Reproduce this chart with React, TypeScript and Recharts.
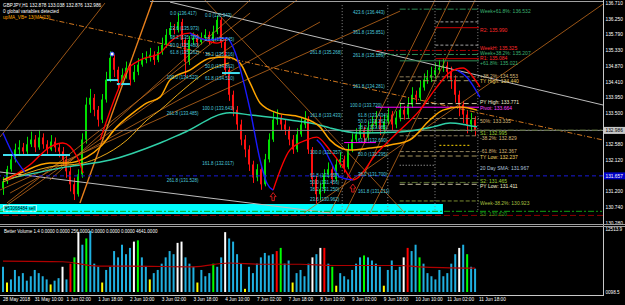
import React from 'react';
import {
  ComposedChart, Bar, Line, XAxis, YAxis, ReferenceLine, ReferenceDot, ReferenceArea, Cell,
} from 'recharts';

// ---------------- DATA ----------------
const opens = [
  131.30, 131.50, 131.85, 132.14, 132.43, 132.49, 132.37, 132.58, 132.72, 132.49,
  132.78, 132.58, 132.43, 132.66, 132.49, 132.37, 132.14, 131.79, 131.41, 131.12,
  131.70, 132.72, 133.74, 133.94, 133.59, 133.30, 133.89, 134.47, 135.11, 134.76,
  134.41, 134.61, 134.82, 134.47, 134.70, 134.91, 135.05, 135.11, 135.20, 135.05,
  135.28, 135.49, 135.78, 135.98, 135.92, 136.16, 135.63, 134.99, 135.63, 135.69,
  135.57, 135.69, 135.78, 135.63, 135.87, 136.22, 135.57, 134.76, 134.03, 133.59,
  133.16, 132.72, 132.43, 131.99, 131.61, 131.85, 131.41, 132.14, 132.72, 133.30,
  133.36, 133.16, 133.01, 132.72, 132.43, 132.87, 133.16, 133.30, 132.43, 131.56,
  131.12, 131.27, 131.70, 131.85, 131.56, 131.99, 132.14, 131.91, 132.43, 132.72,
  132.87, 133.01, 132.78, 133.07, 133.16, 133.30, 133.01, 133.25, 133.45, 133.16,
  133.36, 133.59, 133.45, 133.74, 134.03, 133.94, 134.24, 134.47, 134.53, 134.61,
  134.76, 134.82, 134.88, 134.70, 134.47, 134.03, 133.74, 133.45, 133.16, 133.30,
];
const highs = [
  131.62, 131.95, 132.30, 132.60, 132.70, 132.62, 132.80, 132.95, 132.85, 133.00,
  132.90, 132.70, 132.85, 132.78, 132.60, 132.50, 132.25, 131.95, 131.60, 131.85,
  132.90, 133.95, 134.20, 134.05, 133.70, 134.05, 134.70, 135.30, 135.20, 134.85,
  134.80, 135.00, 134.95, 134.90, 135.10, 135.25, 135.30, 135.40, 135.30, 135.45,
  135.70, 135.95, 136.15, 136.10, 136.42, 136.25, 135.70, 135.75, 135.85, 135.80,
  135.85, 135.95, 135.88, 136.05, 136.34, 136.30, 135.65, 134.85, 134.15, 133.70,
  133.30, 132.85, 132.55, 132.10, 132.00, 131.95, 132.30, 132.90, 133.55, 133.60,
  133.45, 133.30, 133.10, 132.85, 133.05, 133.35, 133.55, 133.40, 132.50, 131.65,
  131.45, 131.85, 132.05, 131.95, 132.15, 132.35, 132.25, 132.60, 132.90, 133.05,
  133.20, 133.10, 133.25, 133.40, 133.55, 133.40, 133.45, 133.65, 133.55, 133.55,
  133.80, 133.70, 133.95, 134.25, 134.15, 134.45, 134.65, 134.75, 134.85, 134.95,
  135.05, 135.10, 135.00, 134.85, 134.60, 134.15, 133.85, 133.55, 133.50, 133.40,
];
const lows = [
  131.10, 131.42, 131.78, 132.05, 132.30, 132.25, 132.30, 132.50, 132.35, 132.42,
  132.45, 132.30, 132.38, 132.35, 132.20, 131.95, 131.60, 131.20, 130.95, 131.05,
  131.60, 132.60, 133.50, 133.40, 133.10, 133.20, 133.80, 134.40, 134.55, 134.20,
  134.30, 134.50, 134.30, 134.40, 134.60, 134.85, 134.95, 135.00, 134.90, 134.98,
  135.20, 135.40, 135.70, 135.80, 135.85, 135.45, 134.55, 134.90, 135.50, 135.45,
  135.50, 135.60, 135.50, 135.55, 135.80, 135.40, 134.60, 133.85, 133.40, 133.00,
  132.55, 132.20, 131.80, 131.45, 131.50, 131.25, 131.35, 132.05, 132.65, 133.15,
  133.00, 132.85, 132.55, 132.30, 132.35, 132.80, 133.05, 132.30, 131.35, 130.85,
  130.95, 131.15, 131.60, 131.40, 131.50, 131.90, 131.75, 131.85, 132.35, 132.65,
  132.75, 132.60, 132.70, 132.95, 133.05, 132.85, 132.90, 133.15, 133.00, 133.05,
  133.25, 133.30, 133.35, 133.65, 133.80, 133.85, 134.15, 134.35, 134.40, 134.50,
  134.65, 134.70, 134.50, 134.20, 133.80, 133.40, 133.20, 132.90, 132.95, 132.82,
];
const closes = [
  131.50, 131.85, 132.14, 132.43, 132.49, 132.37, 132.58, 132.72, 132.49, 132.78,
  132.58, 132.43, 132.66, 132.49, 132.37, 132.14, 131.79, 131.41, 131.12, 131.70,
  132.72, 133.74, 133.94, 133.59, 133.30, 133.89, 134.47, 135.11, 134.76, 134.41,
  134.61, 134.82, 134.47, 134.70, 134.91, 135.05, 135.11, 135.20, 135.05, 135.28,
  135.49, 135.78, 135.98, 135.92, 136.16, 135.63, 134.99, 135.63, 135.69, 135.57,
  135.69, 135.78, 135.63, 135.87, 136.22, 135.57, 134.76, 134.03, 133.59, 133.16,
  132.72, 132.43, 131.99, 131.61, 131.85, 131.41, 132.14, 132.72, 133.30, 133.36,
  133.16, 133.01, 132.72, 132.43, 132.87, 133.16, 133.30, 132.43, 131.56, 131.12,
  131.27, 131.70, 131.85, 131.56, 131.99, 132.14, 131.91, 132.43, 132.72, 132.87,
  133.01, 132.78, 133.07, 133.16, 133.30, 133.01, 133.25, 133.45, 133.16, 133.36,
  133.59, 133.45, 133.74, 134.03, 133.94, 134.24, 134.47, 134.53, 134.61, 134.76,
  134.82, 134.88, 134.70, 134.47, 134.03, 133.74, 133.45, 133.16, 133.30, 132.98,
];

const volumes = [
  5010, 1880, 2500, 4380, 3130, 3750, 2250, 3130, 4380, 3750,
  3130, 2500, 1500, 2250, 2750, 5010, 2500, 5630, 6880, 11890,
  9390, 10640, 12140, 5630, 5010, 1880, 4380, 5010, 8130, 6880,
  9390, 7510, 8760, 10010, 10260, 6880, 5010, 2500, 3750, 4380,
  5630, 6880, 8130, 7510, 9760, 10010, 6880, 5630, 5010, 1880,
  4380, 3130, 3750, 5630, 5010, 6880, 11890, 10640, 10010, 7510,
  5630, 630, 5010, 3750, 5630, 6880, 7760, 7260, 7510, 8130,
  8760, 5630, 6260, 1880, 3750, 4380, 3130, 5630, 6880, 7510,
  8760, 8760, 5630, 5010, 1250, 3750, 3130, 2500, 4380, 5630,
  6880, 7260, 6880, 6260, 5630, 5010, 1250, 4380, 6260, 4380,
  5010, 6880, 8760, 8130, 9390, 6880, 5630, 3750, 3130, 2500,
  4380, 3130, 3750, 5630, 7510, 8760, 9390, 7510, 5010, 4641,
];
// b = normal, w = climax, r = climax high, g = churn, y = low volume
const volumeKinds =
  'bybbbbbbbb' + 'bbybbwbrgw' + 'bgbbbybbbb' + 'bbbwgbbybb' + 'bbbbwwbbby' +
  'bbbgbbwbbb' + 'bybbbbbbbr' + 'gbbybbbbwb' + 'wrbgybbbbb' + 'bgbbbbybbb' +
  'bwrbbgbbbb' + 'bbbbbwbgbb';

const volumeMA = [
  [0, 6130], [15, 6010], [24, 5130], [32, 5130], [48, 5010], [57, 5760],
  [65, 5510], [75, 5510], [83, 5260], [100, 5260], [105, 5010], [119, 4760],
];

const tealMA = [
  [0, 131.54], [16.1, 131.92], [27, 132.12], [39.6, 132.62], [45.4, 132.91], [57.2, 133.50],
  [62.3, 133.44], [72.3, 133.29], [79.9, 133.14], [82.4, 133.06], [90, 132.91], [100, 132.94],
  [108.4, 133.09], [112.7, 133.20], [117, 133.14], [119.5, 133.09],
];
const orangeMA = [
  [0, 131.54], [4.3, 131.74], [11.8, 132.03], [16.1, 132.03], [21.2, 132.21], [24.5, 132.50],
  [28.7, 133.09], [32.8, 133.50], [36.3, 133.79], [39.6, 133.96], [42.1, 134.46], [47.1, 134.75],
  [52.2, 135.10], [56.5, 135.13], [59.7, 134.96], [62.3, 134.37], [64.8, 133.79], [69.1, 133.50],
  [74.9, 133.38], [79.9, 133.09], [82.4, 132.71], [87.5, 132.41], [92.5, 132.47], [97.6, 132.56],
  [102.6, 132.71], [107.6, 133.29], [110.9, 133.58], [115.2, 133.67], [119.5, 133.58],
];
const goldMA = [
  [0, 131.48], [11.8, 131.92], [20.2, 132.03], [24.5, 132.21], [31.3, 132.71], [36.3, 133.29],
  [39.6, 133.58], [45.4, 134.17], [52, 134.75], [57, 134.96],
];
const redSegments = [
  [[1.0, 131.54], [6.8, 131.98], [11.8, 132.50], [15.1, 132.62], [18.7, 132.21], [20.2, 131.74]],
  [[24.5, 132.71], [28.7, 134.08], [31.3, 134.75], [34.5, 135.04], [39.6, 135.25], [42.1, 135.57],
   [47.1, 135.83], [49.7, 135.69], [53.9, 135.54], [56.5, 135.69]],
  [[68.1, 131.24], [72.3, 132.41], [76.6, 132.71], [79.1, 132.79], [82.4, 132.41], [85.7, 131.92],
   [88.2, 131.54], [94.3, 132.33], [99.3, 132.91], [105.1, 133.58], [109.4, 134.26], [112.7, 134.69],
   [116, 134.81], [118.5, 134.55], [120.2, 134.26]],
];
const blueSegments = [
  [[0, 132.91], [3.0, 132.18], [5.5, 131.77]],
  [[47.1, 135.83], [51.4, 135.63], [56.5, 135.69], [58.0, 135.42], [62.3, 133.58], [64.8, 132.12],
   [66.5, 131.45], [68.1, 131.24]],
  [[79.1, 132.71], [80.7, 132.50], [82.4, 132.12], [84.9, 131.62], [88.2, 131.54]],
  [[114.4, 134.75], [116.9, 134.55], [120.2, 133.96]],
];

const priceTicks = [136.71, 136.25, 135.79, 135.33, 134.87, 134.41, 133.95, 133.5, 132.986,
  132.58, 132.12, 131.657, 131.2, 130.74, 130.28];
const currentPrice = 132.986;
const blueLevel = 131.657;

const dateTickBars = [0, 8, 16, 24, 32, 40, 48, 56, 64, 72, 80, 88, 96, 104, 112, 120];
const dateLabels = ['28 May 2018', '31 May 10:00', '1 Jun 02:00', '1 Jun 18:00', '2 Jun 10:00',
  '3 Jun 02:00', '3 Jun 18:00', '4 Jun 10:00', '7 Jun 02:00', '7 Jun 18:00', '8 Jun 10:00',
  '9 Jun 02:00', '9 Jun 18:00', '10 Jun 10:00', '11 Jun 02:00', '11 Jun 18:00'];

const volTicks = [0, 12513.9];
const volTickLabels = ['0098.5', '12513.9'];

// pivot / fib levels: [price, label, kind, fromBar, toBar]
const levels: [number, string, string, number, number][] = [
  [136.532, 'Week+61.8%: 136.532', 'weekfib', 100, 120],
  [135.990, 'R2: 135.990', 'r', 109, 120],
  [135.325, 'WeekH: 135.325', 'weekhl', 94, 120],
  [135.207, 'Week+38.2%: 135.207', 'weekfib', 94, 120],
  [135.084, 'R1: 135.084', 'r', 109, 120],
  [135.021, '+61.8%: 135.021', 'dayfib', 100, 120],
  [134.553, '+38.2%: 134.553', 'fib', 100, 120],
  [134.440, 'TY High: 134.440', 'ty', 100, 120],
  [133.771, 'PY High: 133.771', 'py', 100, 120],
  [133.664, 'Pivot: 133.664', 'pivot', 94, 120],
  [133.335, '50%: 133.335', 'fib', 100, 120],
  [132.995, 'S1: 132.995', 's', 100, 151],
  [132.829, '-38.2%: 132.829', 'fib', 100, 120],
  [132.367, '-61.8%: 132.367', 'fib', 100, 120],
  [132.237, 'TY Low: 132.237', 'ty', 100, 120],
  [131.967, '20 Day SMA: 131.967', 'sma', 100, 109],
  [131.465, 'S2: 131.465', 's', 100, 120],
  [131.411, 'PY Low: 131.411', 'py', 100, 120],
  [130.923, 'Week-38.2%: 130.923', 'weekfib2', 100, 120],
  [130.620, 'S3: 130.620', 's3', -0.75, 151],
];

// fibonacci text labels: [bar, price, text]
const fibLabels: [number, number, string][] = [
  [42.1, 136.417, '0.0 (136.417)'], [42.1, 135.973, '23.6 (135.973)'], [42.1, 135.700, '38.2 (135.700)'],
  [42.1, 135.480, '50.0 (135.480)'], [42.1, 135.262, '61.8 (135.262)'], [41.3, 134.523, '100.0 (134.523)'],
  [41.3, 133.485, '261.8 (133.485)'], [41.3, 131.528, '261.8 (131.528)'],
  [50.9, 136.343, '0.0 (136.343)'], [50.9, 135.645, '23.6 (135.645)'], [50.9, 135.216, '38.2 (135.216)'],
  [50.9, 134.862, '50.0 (134.862)'], [50.9, 134.510, '61.8 (134.510)'], [50.2, 133.641, '100.0 (133.641)'],
  [50.2, 132.017, '161.8 (132.017)'],
  [77.4, 135.268, '261.8 (135.268)'], [77.4, 133.433, '161.8 (133.433)'], [77.4, 132.357, '100.0 (132.357)'],
  [77.4, 131.657, '61.8 (131.657)'], [77.4, 131.456, '50.0 (131.456)'], [77.4, 131.250, '38.2 (131.250)'],
  [77.4, 130.962, '23.6 (130.962)'],
  [88.2, 136.443, '423.6 (136.443)'], [88.2, 135.851, '361.8 (135.851)'], [88.2, 135.189, '261.8 (135.189)'],
  [88.2, 134.281, '161.8 (134.281)'], [87.5, 133.720, '100.0 (133.720)'],
  [89.5, 133.434, '61.8 (133.434)'], [89.5, 133.262, '50.0 (133.262)'], [89.5, 133.085, '38.2 (133.085)'],
  [89.5, 132.690, '61.8 (132.690)'], [89.5, 132.295, '50.0 (132.295)'], [89.5, 131.700, '38.2 (131.700)'],
  [89.5, 131.211, '161.8 (131.211)'],
];

// trend / fan lines: [bar1, price1, bar2, price2, kind]
const trendLines: [number, number, number, number, string][] = [
  [42.1, 136.739, 151.25, 133.729, 'gray'],
  [-0.756, 131.770, 82.4, 130.572, 'gray'],
  [9.3, 136.301, 151.25, 132.706, 'orangeDash'],
  [-0.756, 132.793, 25.7, 136.710, 'orange'],
  [19.4, 130.864, 37.8, 136.798, 'orangeBright'],
  [1.0, 130.864, 62.3, 136.418, 'orange'],
  [1.8, 131.156, 79.9, 136.155, 'orange'],
  [-0.756, 131.244, 100.1, 136.476, 'orange'],
  [50.9, 136.798, 101.3, 130.572, 'orange'],
  [75.9, 130.572, 151.25, 136.681, 'orange'],
  [82.4, 130.572, 108.9, 136.798, 'orange'],
  [86.2, 130.572, 112.7, 136.798, 'orange'],
  [92.5, 130.572, 119.0, 136.798, 'orange'],
  [11.8, 131.536, 62.3, 136.798, 'orange'],
  [-0.756, 130.659, 74.1, 136.798, 'orange'],
];

// short thick cyan marks: [bar1, bar2, price]
const cyanMarks: [number, number, number][] = [
  [0, 16.9, 132.267], [26.2, 29, 134.459], [28.7, 32, 134.342], [55.2, 59.7, 134.664],
];
const verticalBars = [85.5, 97, 108.9, 119.7];
const arrowsUp: [number, number][] = [[68.1, 131.05], [88.2, 131.30]];

// ---------------- STYLE ----------------
const FONT = '"Liberation Sans", Arial, sans-serif';
const X_DOMAIN: [number, number] = [-0.756, 151.25];
const P_DOMAIN: [number, number] = [130.22, 136.8];

const levelStyle: Record<string, { stroke: string; dash?: string; text: string }> = {
  weekfib: { stroke: '#2e8b57', dash: '6 2 2 2', text: '#3cb371' },
  weekfib2: { stroke: '#7a8a30', dash: '4 2', text: '#a8c040' },
  r: { stroke: '#cc0000', text: '#ff2a2a' },
  weekhl: { stroke: '#b00000', dash: '6 2 2 2', text: '#ff2a2a' },
  dayfib: { stroke: '#2e8b57', text: '#3cb371' },
  fib: { stroke: '#8b7d5a', dash: '4 2', text: '#d8b878' },
  ty: { stroke: '#a89860', dash: '5 3', text: '#f0d060' },
  py: { stroke: '#c8c0a0', dash: '5 3', text: '#f5f0d0' },
  pivot: { stroke: '#ff00ff', text: '#ff40ff' },
  s: { stroke: '#556b2f', dash: '6 2 2 2', text: '#9acd32' },
  s3: { stroke: '#10a010', dash: '6 2 2 2', text: '#20a020' },
  sma: { stroke: '#c0c0c0', dash: '1 2', text: '#b0c4de' },
};
// vertical text offset (px from the level line to the text baseline), by level index
const labelDy: Record<number, number> = {
  2: -0.4, 3: 0.5, 4: 1.3, 5: 4.2, 6: 1.2, 7: 2.3, 8: 0.4, 9: 2.3,
  11: 5, 12: 4.2, 13: 1.4, 14: 2.5, 16: 0.6, 17: 4.2,
};
const trendStyle: Record<string, { stroke: string; dash?: string; w: number }> = {
  gray: { stroke: '#bdbdbd', w: 1 },
  orange: { stroke: '#c06a1c', w: 0.8 },
  orangeBright: { stroke: '#e8801c', w: 1.4 },
  orangeDash: { stroke: '#d2781e', dash: '5 2 1 2', w: 1 },
};
const volColor: Record<string, string> = {
  b: '#1fb0e0', w: '#ffffff', r: '#ff0000', g: '#00ff00', y: '#ffff00',
};

const pts = (arr: number[][]) => arr.map(([x, p]) => ({ x, p }));

const Candle = (props: any) => {
  const { x, y, width, height, payload } = props;
  if (!payload || height == null || isNaN(y) || payload.o == null) return null;
  const top = height < 0 ? y + height : y;
  const H = Math.abs(height);
  const { o, h, l, c } = payload;
  const k = H / (h - l || 1);
  const yO = top + (h - o) * k;
  const yC = top + (h - c) * k;
  const color = c >= o ? '#00e000' : '#ff1010';
  const cx = Math.round(x + width / 2) + 0.5;
  const bTop = Math.min(yO, yC);
  const bH = Math.max(1, Math.abs(yO - yC));
  return (
    <g>
      <line x1={cx} x2={cx} y1={top} y2={top + H} stroke={color} strokeWidth={1} />
      <rect x={Math.round(x)} y={bTop} width={width} height={bH} fill={color} />
    </g>
  );
};

const PriceTick = (props: any) => {
  const { x, y, payload } = props;
  const v = payload.value;
  const cur = Math.abs(v - currentPrice) < 1e-6;
  const blue = Math.abs(v - blueLevel) < 1e-6;
  return (
    <g>
      {cur && <rect x={x} y={y - 3.5} width={22} height={7} fill="#c8c8c8" />}
      {blue && <rect x={x} y={y - 3.5} width={22} height={7} fill="#0000c8" />}
      <text x={x + 2.5} y={y + 1.8} fontSize={4.8} fontFamily={FONT} fill={cur ? '#000' : '#fff'}>
        {v.toFixed(3)}
      </text>
    </g>
  );
};

const VolTick = (props: any) => {
  const { x, y, payload } = props;
  const label = volTickLabels[volTicks.indexOf(payload.value)];
  return (
    <text x={x + 2.5} y={y + 1.8} fontSize={4.6} fontFamily={FONT} fill="#fff">{label}</text>
  );
};

const DateTick = (props: any) => {
  const { x, y, payload } = props;
  const label = dateLabels[dateTickBars.indexOf(payload.value)];
  return (
    <text x={x} y={y + 8.5} fontSize={4.7} fontFamily={FONT} fill="#fff">{label}</text>
  );
};

const mainAxes = (withTicks: boolean) => [
  <XAxis key="x" type="number" dataKey="x" domain={X_DOMAIN} hide allowDataOverflow />,
  <YAxis
    key="y" orientation="right" domain={P_DOMAIN} width={22} ticks={priceTicks} interval={0}
    tick={withTicks ? <PriceTick /> : false} axisLine={false} tickLine={false} tickSize={0} tickMargin={0} allowDataOverflow
  />,
];

export default function App() {
  const candles = closes.map((c, i) => ({
    x: i, o: opens[i], h: highs[i], l: lows[i], c, range: [lows[i], highs[i]],
  }));
  const volData = volumes.map((v, i) => ({ x: i, v }));
  const abs = (top: number): React.CSSProperties => ({ position: 'absolute', left: 0, top });

  return (
    <div style={{ position: 'fixed', left: 0, top: 0, width: 625, height: 305, background: '#000', overflow: 'hidden' }}>
      {/* layer 1: reference lines, bands, candles */}
      <div style={abs(0)}>
        <ComposedChart width={625} height={225} data={candles} margin={{ top: 0, right: 0, bottom: 0, left: 0 }}>
          {mainAxes(true)}
          <ReferenceArea x1={-0.756} x2={110.9} y1={130.54} y2={130.835} fill="#00ffff" fillOpacity={1} stroke="none" ifOverflow="hidden" />
          {trendLines.map(([x1, p1, x2, p2, kind], i) => (
            <ReferenceLine
              key={'t' + i}
              segment={[{ x: x1, y: p1 }, { x: x2, y: p2 }]}
              stroke={trendStyle[kind].stroke}
              strokeWidth={trendStyle[kind].w}
              strokeDasharray={trendStyle[kind].dash}
              ifOverflow="hidden"
            />
          ))}
          {verticalBars.map((b, i) => (
            <ReferenceLine key={'v' + i} segment={[{ x: b, y: 136.65 }, { x: b, y: 130.6 }]} stroke="#8a8a8a" strokeDasharray="1 2" ifOverflow="hidden" />
          ))}
          <ReferenceLine y={currentPrice} stroke="#8c8c8c" strokeWidth={1} ifOverflow="hidden" />
          <ReferenceLine y={blueLevel} stroke="#1a1ad8" strokeDasharray="4 3" ifOverflow="hidden" />
          <ReferenceLine y={130.5} stroke="#8b0000" strokeDasharray="6 3" ifOverflow="hidden" />
          <ReferenceLine segment={[{ x: 109, y: 136.16 }, { x: 120, y: 136.16 }]} stroke="#a0a0a0" strokeDasharray="3 2" ifOverflow="hidden" />
          <ReferenceLine segment={[{ x: 109, y: 135.48 }, { x: 120, y: 135.48 }]} stroke="#a0a0a0" strokeDasharray="3 2" ifOverflow="hidden" />
          <ReferenceLine segment={[{ x: 86, y: 132.63 }, { x: 94, y: 132.63 }]} stroke="#ff00ff" ifOverflow="hidden" />
          <ReferenceLine segment={[{ x: 110, y: 132.55 }, { x: 118, y: 132.55 }]} stroke="#ffd700" strokeDasharray="2 2" ifOverflow="hidden" />
          {levels.map(([p, , kind, a, b], i) => (
            <ReferenceLine
              key={'l' + i}
              segment={[{ x: a, y: p }, { x: b, y: p }]}
              stroke={levelStyle[kind].stroke}
              strokeDasharray={levelStyle[kind].dash}
              ifOverflow="hidden"
            />
          ))}
          {cyanMarks.map(([a, b, p], i) => (
            <ReferenceLine key={'c' + i} segment={[{ x: a, y: p }, { x: b, y: p }]} stroke="#40e0f0" strokeWidth={2} ifOverflow="hidden" />
          ))}
          <Bar dataKey="range" barSize={2} shape={<Candle />} isAnimationActive={false} />
        </ComposedChart>
      </div>

      {/* layer 2: moving-average style lines */}
      <div style={abs(0)}>
        <ComposedChart width={625} height={225} margin={{ top: 0, right: 0, bottom: 0, left: 0 }}>
          {mainAxes(false)}
          <Line data={pts(tealMA)} dataKey="p" type="monotone" stroke="#30d0a8" strokeWidth={1.5} dot={false} activeDot={false} isAnimationActive={false} />
          <Line data={pts(goldMA)} dataKey="p" type="monotone" stroke="#e8a818" strokeWidth={1} dot={false} activeDot={false} isAnimationActive={false} />
          <Line data={pts(orangeMA)} dataKey="p" type="monotone" stroke="#ffa500" strokeWidth={1.5} dot={false} activeDot={false} isAnimationActive={false} />
          {redSegments.map((seg, i) => (
            <Line key={'r' + i} data={pts(seg)} dataKey="p" type="monotone" stroke="#ff0000" strokeWidth={1.4} dot={false} activeDot={false} isAnimationActive={false} />
          ))}
          {blueSegments.map((seg, i) => (
            <Line key={'b' + i} data={pts(seg)} dataKey="p" type="monotone" stroke="#1a1aff" strokeWidth={1.4} dot={false} activeDot={false} isAnimationActive={false} />
          ))}
        </ComposedChart>
      </div>

      {/* layer 3: text annotations and markers */}
      <div style={abs(0)}>
        <ComposedChart width={625} height={225} data={candles} margin={{ top: 0, right: 0, bottom: 0, left: 0 }}>
          {mainAxes(false)}
          {arrowsUp.map(([b, p], i) => (
            <ReferenceDot
              key={'a' + i} x={b} y={p} ifOverflow="hidden"
              shape={(s: any) => (
                <polygon
                  points={`${s.cx},${s.cy - 4} ${s.cx + 3},${s.cy} ${s.cx + 1.2},${s.cy} ${s.cx + 1.2},${s.cy + 4} ${s.cx - 1.2},${s.cy + 4} ${s.cx - 1.2},${s.cy} ${s.cx - 3},${s.cy}`}
                  fill="none" stroke="#ff2020" strokeWidth={0.8}
                />
              )}
            />
          ))}
          <ReferenceDot x={27.5} y={135.22} ifOverflow="hidden"
            shape={(s: any) => <circle cx={s.cx} cy={s.cy} r={2} fill="#ffffff" stroke="#3050ff" strokeWidth={1} />} />
          {fibLabels.map(([b, p, t], i) => (
            <ReferenceDot
              key={'f' + i} x={b} y={p} ifOverflow="hidden"
              shape={(s: any) => (
                <text x={s.cx} y={s.cy + 1.6} fontSize={4.5} fontFamily={FONT} fill="#4cc9de">{t}</text>
              )}
            />
          ))}
          {levels.map(([p, label, kind], i) => (
            <ReferenceDot
              key={'lt' + i} x={120} y={p} ifOverflow="hidden"
              shape={(s: any) => (
                <text x={s.cx + 1} y={s.cy + (labelDy[i] ?? 4.3)} fontSize={5} fontFamily={FONT} fill={levelStyle[kind].text}>{label}</text>
              )}
            />
          ))}
        </ComposedChart>
      </div>

      <div style={abs(226)}>
        <ComposedChart width={625} height={79} data={volData} margin={{ top: 3, right: 0, bottom: 0, left: 0 }}>
          <XAxis
            type="number" dataKey="x" domain={X_DOMAIN} ticks={dateTickBars} interval={0} height={13}
            tick={<DateTick />} axisLine={false} tickLine={false} tickSize={0} tickMargin={0} allowDataOverflow
          />
          <YAxis
            orientation="right" domain={[0, 12513.9]} width={22} ticks={volTicks} interval={0}
            tick={<VolTick />} axisLine={false} tickLine={false} tickSize={0} tickMargin={0} allowDataOverflow
          />
          <Bar dataKey="v" barSize={2} isAnimationActive={false}>
            {volData.map((d, i) => (
              <Cell key={i} fill={volColor[volumeKinds[i]]} />
            ))}
          </Bar>
          <Line data={volumeMA.map(([x, v]) => ({ x, v }))} dataKey="v" type="monotone" stroke="#b00000" strokeWidth={1.2} dot={false} activeDot={false} isAnimationActive={false} />
        </ComposedChart>
      </div>

      <svg width={625} height={305} style={{ position: 'absolute', left: 0, top: 0, pointerEvents: 'none' }}>
        <line x1={150} x2={603} y1={1.5} y2={1.5} stroke="#a0a0a0" />
        <line x1={603.5} x2={603.5} y1={0} y2={296} stroke="#c8c8c8" />
        <line x1={0} x2={625} y1={224.5} y2={224.5} stroke="#a0a0a0" />
        <line x1={0} x2={625} y1={226.5} y2={226.5} stroke="#a0a0a0" />
        <line x1={0} x2={604} y1={295.5} y2={295.5} stroke="#c8c8c8" />
        <text x={3} y={6.5} fontSize={4.7} fontFamily={FONT} fill="#fff">GBPJPY,H1  132.878 133.038 132.876 132.986</text>
        <text x={3} y={12.5} fontSize={4.7} fontFamily={FONT} fill="#fff">0 global variables detected</text>
        <text x={3} y={18.5} fontSize={4.7} fontFamily={FONT} fill="#ffa500">upMA_VB= 13(MA(13)</text>
        <rect x={3.5} y={205.5} width={33} height={6} fill="none" stroke="#ffffff" strokeWidth={0.6} />
        <text x={5} y={210.4} fontSize={4.5} fontFamily={FONT} fill="#000">#53068484 sell</text>
        <text x={4} y={233} fontSize={4.5} fontFamily={FONT} fill="#fff">Better Volume 1.4 0.0000 0.0000 256.0000 0.0000 0.0000 0.0000 4641.0000</text>
      </svg>
    </div>
  );
}
